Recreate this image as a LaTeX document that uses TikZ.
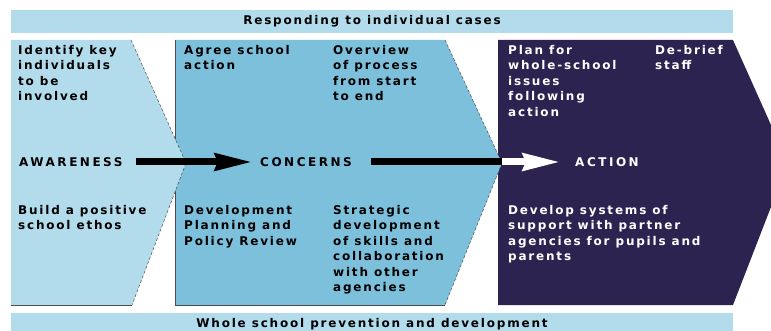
\documentclass[tikz,border=0pt]{standalone}
\usepackage{fontspec}
\setmainfont{DejaVu Sans}
\newfontfamily\panelfont[LetterSpace=15]{DejaVu Sans}
\newfontfamily\stagefont[LetterSpace=21]{DejaVu Sans}
\usetikzlibrary{arrows.meta,positioning,calc}

\definecolor{paleblue}{RGB}{178,220,236}
\definecolor{midblue}{RGB}{124,192,220}
\definecolor{navyblue}{RGB}{44,35,80}

\begin{document}
\begin{tikzpicture}[x=1pt, y=-1pt,
    txt/.style={anchor=north west, inner sep=0pt, align=left,
                font=\panelfont\bfseries\fontsize{12}{15.5}\selectfont},
    stage/.style={anchor=west, inner sep=0pt,
                  font=\stagefont\bfseries\fontsize{12}{15.5}\selectfont},
    band/.style={fill=paleblue, inner sep=0pt, minimum width=722pt,
                 font=\panelfont\bfseries\fontsize{12}{15.5}\selectfont},
    arr/.style={line width=7pt, -{Stealth[length=37pt, width=17pt, inset=3pt]}}
  ]
  \useasboundingbox (0,0) rectangle (771,331);
  \clip (0,0) rectangle (771,331);
  % Top and bottom bands
  \node[band, minimum height=23pt] (respond) at (372,21.5)
       {Responding to individual cases};
  \node[band, minimum height=22pt] (prevent) at (372,324)
       {Whole school prevention and development};
  % Three chevrons, drawn back to front
  \fill[navyblue] (498,40) -- (733,40) -- (788,163) -- (733,305)
       -- (498,305) -- cycle;
  \fill[midblue] (175,40) -- (445,40) -- (502,163) -- (445,305)
       -- (175,305) -- cycle;
  \draw[gray!60!black, line width=0.5pt] (175,40) -- (175,305) -- (445,305);
  \draw[gray!60!black, line width=0.5pt, densely dashed]
       (445,40) -- (502,163) -- (445,305);
  \fill[paleblue] (11,40) -- (131,40) -- (186,163) -- (132,305)
       -- (11,305) -- cycle;
  \draw[gray!60!black, line width=0.5pt] (11,305) -- (132,305);
  \draw[gray!60!black, line width=0.5pt, densely dashed]
       (131,40) -- (186,163) -- (132,305);
  % Upper texts
  \node[txt] (identify) at (18,45) {Identify key\\individuals\\to be\\involved};
  \node[txt] (agree) at (184,45) {Agree school\\action};
  \node[txt] (overview) at (333,45) {Overview\\of process\\from start\\to end};
  \node[txt, text=white] (plan) at (508,45)
       {Plan for\\whole-school\\issues\\following\\action};
  \node[txt, text=white] (debrief) at (655,45) {De-brief\\staff};
  % Stages and arrows
  \node[stage] (aware) at (19,162) {AWARENESS};
  \node[stage] (concern) at (260,162) {CONCERNS};
  \node[stage, text=white] (act) at (575,162) {ACTION};
  \coordinate (split) at (502,162);
  \draw[arr, shorten <=13pt, shorten >=8pt] (aware.east) -- (concern.west);
  \draw[line width=7pt, shorten <=19pt] (concern.east) -- (split);
  \draw[arr, white, shorten >=15pt] (split) -- (act.west);
  % Lower texts
  \node[txt] (ethos) at (18,205) {Build a positive\\school ethos};
  \node[txt] (planning) at (184,205) {Development\\Planning and\\Policy Review};
  \node[txt] (strategic) at (333,205)
       {Strategic\\development\\of skills and\\collaboration\\with other\\agencies};
  \node[txt, text=white] (systems) at (508,205)
       {Develop systems of\\support with partner\\agencies for pupils and\\parents};
\end{tikzpicture}
\end{document}
